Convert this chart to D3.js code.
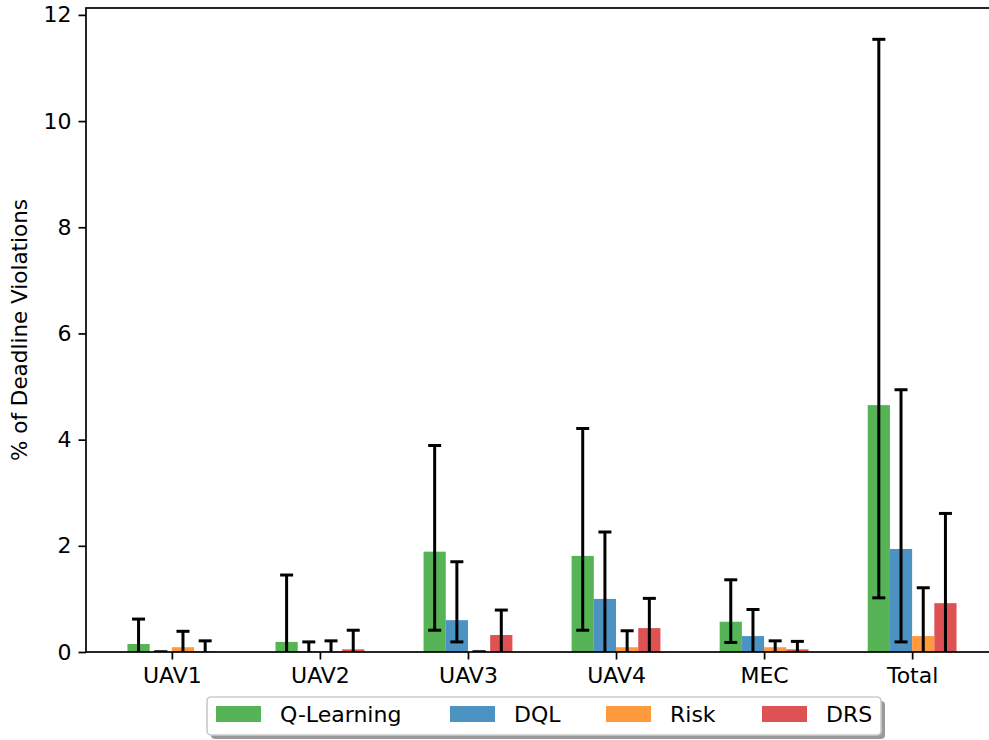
<!DOCTYPE html>
<html>
<head>
<meta charset="utf-8">
<script src="https://cdn.jsdelivr.net/npm/d3@7"></script>
<style>
  html, body { margin: 0; padding: 0; background: #fff; }
  svg { display: block; font-family: "DejaVu Sans", sans-serif; }
</style>
</head>
<body>
<svg id="chart" width="989" height="740"></svg>
<script>
// Deadline-violation percentages per node, with error ranges (low/high ends)
const categories = ["UAV1", "UAV2", "UAV3", "UAV4", "MEC", "Total"];
const seriesNames = ["Q-Learning", "DQL", "Risk", "DRS"];

const qLearning     = [0.15, 0.19, 1.89, 1.81, 0.57, 4.65];
const qLearningLow  = [-0.32, -1.07, 0.41, 0.41, 0.18, 1.02];
const qLearningHigh = [0.62, 1.45, 3.89, 4.21, 1.36, 11.54];

const dql     = [0.00, 0.01, 0.60, 1.00, 0.30, 1.94];
const dqlLow  = [0.00, -0.17, 0.19, -0.26, -0.20, 0.19];
const dqlHigh = [0.00, 0.19, 1.70, 2.26, 0.80, 4.94];

const risk     = [0.09, 0.01, 0.00, 0.09, 0.09, 0.30];
const riskLow  = [-0.21, -0.19, 0.00, -0.22, -0.03, -0.61];
const riskHigh = [0.39, 0.21, 0.00, 0.40, 0.21, 1.21];

const drs     = [0.01, 0.05, 0.32, 0.45, 0.05, 0.92];
const drsLow  = [-0.19, -0.31, -0.15, -0.11, -0.10, -0.77];
const drsHigh = [0.21, 0.41, 0.79, 1.01, 0.20, 2.61];

const yTicks = [0, 2, 4, 6, 8, 10, 12];

const colors = ["#56b356", "#4c92c3", "#ff993e", "#de5253"];

const series = [
  { name: seriesNames[0], values: qLearning, low: qLearningLow, high: qLearningHigh },
  { name: seriesNames[1], values: dql, low: dqlLow, high: dqlHigh },
  { name: seriesNames[2], values: risk, low: riskLow, high: riskHigh },
  { name: seriesNames[3], values: drs, low: drsLow, high: drsHigh }
];

const svg = d3.select("#chart");
const plot = { left: 86, right: 998, top: 8, bottom: 652 };
const fontSize = 22;

const x = d3.scaleLinear().domain([-0.58, 5.58]).range([plot.left, plot.right]);
const y = d3.scaleLinear().domain([0, 12.13]).range([plot.bottom, plot.top]);
const barW = 0.15;

svg.append("defs").append("clipPath").attr("id", "plotClip")
  .append("rect")
  .attr("x", plot.left).attr("y", plot.top)
  .attr("width", plot.right - plot.left).attr("height", plot.bottom - plot.top);

const marks = svg.append("g").attr("clip-path", "url(#plotClip)");

series.forEach((s, j) => {
  const offset = (j - 1.5) * barW;
  const g = marks.append("g");
  g.selectAll("rect")
    .data(categories.map((c, i) => ({ i, v: s.values[i] })))
    .join("rect")
    .attr("x", d => x(d.i + offset - barW / 2))
    .attr("width", d => x(d.i + offset + barW / 2) - x(d.i + offset - barW / 2))
    .attr("y", d => y(d.v))
    .attr("height", d => y(0) - y(d.v))
    .attr("fill", colors[j]);

  const eg = g.append("g").attr("stroke", "#000").attr("stroke-width", 3);
  categories.forEach((c, i) => {
    const cx = x(i + offset);
    const lo = s.low[i], hi = s.high[i];
    eg.append("line")
      .attr("x1", cx).attr("x2", cx)
      .attr("y1", y(lo)).attr("y2", y(hi));
    [lo, hi].forEach(v => {
      eg.append("line")
        .attr("x1", cx - 6.5).attr("x2", cx + 6.5)
        .attr("y1", y(v)).attr("y2", y(v));
    });
  });
});

// Axes
const yAxis = d3.axisLeft(y).tickValues(yTicks).tickFormat(d3.format("d"))
  .tickSizeInner(7.5).tickSizeOuter(0).tickPadding(7);
const yg = svg.append("g").attr("transform", `translate(${plot.left},0)`).call(yAxis);
yg.select(".domain").remove();
yg.selectAll("line").attr("stroke", "#000").attr("stroke-width", 1.7);
yg.selectAll("text").attr("font-size", fontSize).attr("font-family", "DejaVu Sans").attr("fill", "#000");

const xAxis = d3.axisBottom(x).tickValues(categories.map((c, i) => i))
  .tickFormat(i => categories[i]).tickSizeInner(7.5).tickSizeOuter(0).tickPadding(8);
const xg = svg.append("g").attr("transform", `translate(0,${plot.bottom})`).call(xAxis);
xg.select(".domain").remove();
xg.selectAll("line").attr("stroke", "#000").attr("stroke-width", 1.7);
xg.selectAll("text").attr("font-size", fontSize).attr("font-family", "DejaVu Sans").attr("fill", "#000");

// Spines
const spine = svg.append("g").attr("stroke", "#000").attr("stroke-width", 1.7).attr("fill", "none");
spine.append("rect")
  .attr("x", plot.left).attr("y", plot.top)
  .attr("width", plot.right - plot.left).attr("height", plot.bottom - plot.top);

// Y label
svg.append("text")
  .attr("transform", `translate(27,${(plot.top + plot.bottom) / 2}) rotate(-90)`)
  .attr("text-anchor", "middle")
  .attr("font-size", 21.5)
  .text("% of Deadline Violations");

// Legend
const legend = svg.append("g");
const lg = { x: 207, y: 697, w: 674, h: 38 };
legend.append("rect")
  .attr("x", lg.x + 4).attr("y", lg.y + 4)
  .attr("width", lg.w).attr("height", lg.h).attr("rx", 4)
  .attr("fill", "#9a9a9a");
legend.append("rect")
  .attr("x", lg.x).attr("y", lg.y)
  .attr("width", lg.w).attr("height", lg.h).attr("rx", 4)
  .attr("fill", "#fff").attr("stroke", "#cccccc").attr("stroke-width", 1.7);

const entryX = [216, 450, 606, 762];
seriesNames.forEach((name, j) => {
  legend.append("rect")
    .attr("x", entryX[j]).attr("y", 706)
    .attr("width", 45).attr("height", 16)
    .attr("fill", colors[j]);
  legend.append("text")
    .attr("x", entryX[j] + 64).attr("y", 722)
    .attr("font-size", fontSize)
    .text(name);
});
</script>
</body>
</html>
